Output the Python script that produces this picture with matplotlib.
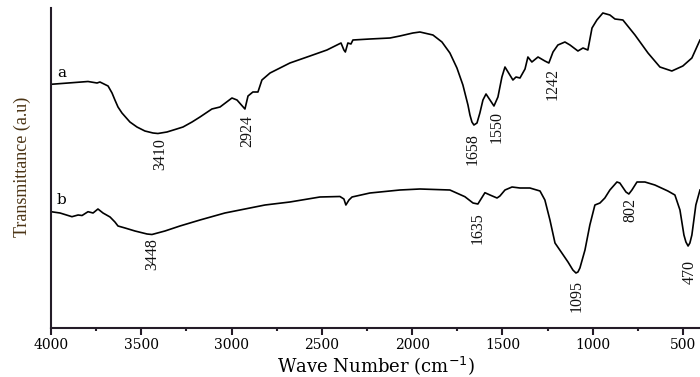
import numpy as np
import matplotlib
matplotlib.use("Agg")
import matplotlib.pyplot as plt
from matplotlib.ticker import MultipleLocator

# ---- data ----
wn_a = [4000, 3795, 3745, 3729, 3684, 3662, 3646, 3629, 3607, 3563, 3524, 3480,
        3435, 3408, 3358, 3313, 3269, 3219, 3175, 3109, 3064, 2998, 2970, 2926,
        2909, 2882, 2854, 2832, 2787, 2677, 2566, 2472, 2394, 2378, 2370, 2356,
        2339, 2328, 2234, 2123, 2068, 1996, 1957, 1885, 1835, 1791, 1752, 1719,
        1691, 1680, 1669, 1658, 1641, 1625, 1608, 1591, 1569, 1547, 1525, 1503,
        1486, 1459, 1442, 1425, 1403, 1375, 1359, 1337, 1303, 1265, 1243, 1220,
        1193, 1154, 1126, 1082, 1054, 1027, 1004, 977, 944, 905, 877, 833, 766,
        694, 628, 562, 501, 451, 406]
tr_a = [243.7, 246.5, 245, 246, 242, 235, 228, 221, 215, 206, 201, 197,
        195, 194.5, 196, 198.5, 201, 206, 211, 219, 221, 230, 228, 219,
        232, 236, 236, 248, 255, 265, 272, 278, 285, 278, 276, 285,
        284, 288, 289, 290, 292, 295, 296, 293, 286, 275, 260, 243,
        223, 213, 206, 203, 205, 215, 228, 234, 228, 222, 231, 251,
        261, 253, 248, 251, 250, 259, 271, 266, 271, 267, 265, 276,
        283, 286, 283, 277, 280, 278, 300, 308, 315, 313, 309, 308, 293,
        275, 261, 257, 262, 270, 288]

wn_b = [4000, 3950, 3884, 3850, 3828, 3795, 3767, 3740, 3712, 3673, 3646, 3629,
        3590, 3535, 3468, 3441, 3369, 3286, 3175, 3037, 2926, 2815, 2677, 2511,
        2400, 2378, 2367, 2350, 2333, 2234, 2068, 1957, 1791, 1708, 1663, 1636,
        1597, 1569, 1530, 1514, 1486, 1447, 1403, 1348, 1292, 1265, 1237, 1209,
        1171, 1137, 1110, 1093, 1082, 1071, 1043, 1016, 988, 960, 933, 905, 866,
        850, 816, 800, 783, 755, 711, 656, 584, 545, 517, 495, 484, 472, 462,
        451, 429, 406]
tr_b = [116.3, 115, 111.3, 113, 112.5, 116.3, 115, 119, 115, 111, 106, 102,
        100, 97, 94, 93.5, 97, 102, 108, 115, 119, 123, 126, 131,
        131.5, 129, 123, 128, 131, 135, 138, 139, 138, 131.3, 125, 124,
        135.3, 133, 130, 132, 138, 141, 140, 140, 137, 128, 108, 85,
        75, 66, 58, 55, 56, 60, 78, 103, 123, 125, 130, 138, 146,
        145, 136, 134, 138, 146, 146, 143, 137, 133, 118, 93, 86, 82, 85,
        93, 123, 138]

peak_labels_a = ["3410", "2924", "1658", "1550", "1242"]
peak_labels_b = ["3448", "1635", "1095", "802", "470"]
x_ticks = [4000, 3500, 3000, 2500, 2000, 1500, 1000, 500]

# ---- placement of the peak labels (wavenumber of text centre, top of text) ----
lab_pos_a = [(3396, 190), (2915, 213), (1663, 195), (1530, 217), (1220, 260)]
lab_pos_b = [(3441, 90), (1636, 116), (1088, 48), (794, 130), (462, 68)]

fig = plt.figure(figsize=(7.0, 3.77), dpi=100)
ax = fig.add_axes([51 / 700, 49 / 377, 649 / 700, 320 / 377])

ax.plot(wn_a, tr_a, color="black", lw=1.2, solid_joinstyle="round")
ax.plot(wn_b, tr_b, color="black", lw=1.2, solid_joinstyle="round")

ax.set_xlim(4000, 406)
ax.set_ylim(0, 320)

for s in ["top", "right"]:
    ax.spines[s].set_visible(False)
for s in ["left", "bottom"]:
    ax.spines[s].set_linewidth(1.5)
    ax.spines[s].set_color("#241c28")

ax.set_xticks(x_ticks)
ax.set_xticklabels([str(t) for t in x_ticks])
ax.xaxis.set_minor_locator(MultipleLocator(250))
ax.tick_params(axis="x", which="major", direction="out", length=5, width=1.5,
               color="#241c28", pad=2.0, labelsize=10)
ax.tick_params(axis="x", which="minor", direction="out", length=2.5, width=1.5,
               color="#241c28")
for lab in ax.get_xticklabels():
    lab.set_fontfamily("DejaVu Serif")
ax.set_yticks([])

ax.set_xlabel("Wave Number (cm$^{-1}$)", fontfamily="DejaVu Serif", fontsize=13,
              va="baseline")
ax.xaxis.set_label_coords(0.50, -0.137)
ax.set_ylabel("Transmittance (a.u)", fontfamily="Liberation Serif", fontsize=13,
              color="#4b3415", va="center")
ax.yaxis.set_label_coords(-0.0447, 0.503)

for txt, (w, t) in zip(peak_labels_a + peak_labels_b, lab_pos_a + lab_pos_b):
    ax.text(w, t, txt, rotation=90, ha="center", va="top",
            fontfamily="Liberation Serif", fontsize=11.5, color="#111111")

ax.text(3967, 255, "a", ha="left", va="center", fontfamily="DejaVu Serif",
        fontsize=11)
ax.text(3967, 128, "b", ha="left", va="center", fontfamily="DejaVu Serif",
        fontsize=11)

fig.savefig("out.png", dpi=100)
